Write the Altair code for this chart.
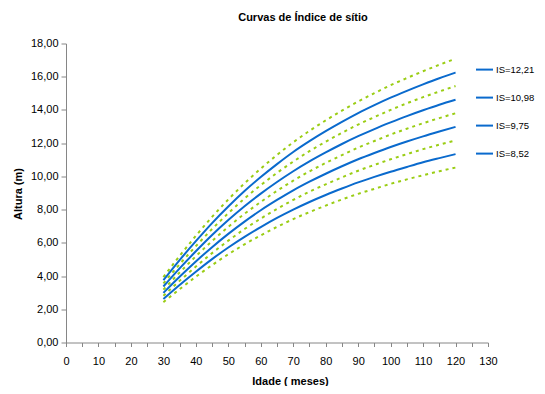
import altair as alt
import pandas as pd

ages = [30, 35, 40, 45, 50, 55, 60, 65, 70, 75, 80, 85, 90, 95, 100, 105, 110, 115, 120]

blue_names = ["IS=12,21", "IS=10,98", "IS=9,75", "IS=8,52"]
is_1221 = [3.75, 4.96, 6.10, 7.19, 8.19, 9.12, 9.96, 10.74, 11.47, 12.12, 12.72, 13.28, 13.81, 14.29, 14.74, 15.15, 15.54, 15.91, 16.25]
is_1098 = [3.37, 4.46, 5.49, 6.47, 7.37, 8.20, 8.96, 9.66, 10.31, 10.90, 11.44, 11.95, 12.42, 12.85, 13.25, 13.63, 13.98, 14.31, 14.61]
is_975 = [2.99, 3.96, 4.88, 5.74, 6.54, 7.28, 7.96, 8.58, 9.16, 9.68, 10.16, 10.61, 11.03, 11.41, 11.77, 12.10, 12.41, 12.70, 12.98]
is_852 = [2.62, 3.46, 4.26, 5.02, 5.72, 6.36, 6.95, 7.50, 8.00, 8.46, 8.88, 9.27, 9.64, 9.97, 10.28, 10.57, 10.85, 11.10, 11.34]

lim_1 = [3.94, 5.21, 6.42, 7.56, 8.61, 9.58, 10.47, 11.29, 12.05, 12.74, 13.37, 13.96, 14.51, 15.01, 15.49, 15.92, 16.33, 16.72, 17.08]
lim_2 = [3.56, 4.71, 5.80, 6.83, 7.78, 8.67, 9.47, 10.21, 10.89, 11.52, 12.09, 12.62, 13.12, 13.57, 14.00, 14.40, 14.77, 15.11, 15.44]
lim_3 = [3.18, 4.21, 5.19, 6.11, 6.96, 7.75, 8.46, 9.13, 9.74, 10.30, 10.81, 11.28, 11.73, 12.13, 12.52, 12.87, 13.20, 13.51, 13.80]
lim_4 = [2.81, 3.71, 4.57, 5.38, 6.13, 6.83, 7.46, 8.04, 8.58, 9.08, 9.52, 9.94, 10.34, 10.69, 11.03, 11.34, 11.64, 11.91, 12.17]
lim_5 = [2.43, 3.21, 3.96, 4.66, 5.31, 5.91, 6.45, 6.96, 7.43, 7.85, 8.24, 8.61, 8.95, 9.25, 9.55, 9.82, 10.07, 10.31, 10.53]

x_ticks = list(range(0, 131, 5))
y_ticks = list(range(0, 19, 2))

blue_rows = []
for name, vals in zip(blue_names, [is_1221, is_1098, is_975, is_852]):
    for a, v in zip(ages, vals):
        blue_rows.append({"idade": a, "altura": v, "serie": name})
blue_df = pd.DataFrame(blue_rows)

green_rows = []
for i, vals in enumerate([lim_1, lim_2, lim_3, lim_4, lim_5]):
    for a, v in zip(ages, vals):
        green_rows.append({"idade": a, "altura": v, "lim": f"L{i}"})
green_df = pd.DataFrame(green_rows)

FONT = "Liberation Sans"
BLUE = "#0A6ACD"
GREEN = "#9ACD14"


def x_enc():
    return alt.X(
        "idade:Q",
        scale=alt.Scale(domain=[0, 130], nice=False),
        axis=alt.Axis(
            values=x_ticks,
            labelExpr="datum.value % 10 == 0 ? datum.label : ''",
            labelOverlap=False,
            labelFlush=False,
            title="Idade ( meses)",
            titleX=224,
            titleY=38.5,
            titleBaseline="middle",
            titleFontWeight="bold",
            titleFontSize=11,
            labelFontSize=11,
            labelPadding=9,
            tickSize=4,
            grid=False,
        ),
    )


def y_enc():
    return alt.Y(
        "altura:Q",
        scale=alt.Scale(domain=[0, 18], nice=False),
        axis=alt.Axis(
            values=y_ticks,
            labelExpr="replace(format(datum.value, '.2f'), '.', ',')",
            labelOverlap=False,
            labelFlush=False,
            title="Altura (m)",
            titleX=-48,
            titleY=150,
            titleAngle=-90,
            titleAlign="center",
            titleBaseline="middle",
            titleFontWeight="bold",
            titleFontSize=11,
            labelFontSize=11,
            labelPadding=3,
            tickSize=5,
            grid=False,
        ),
    )


green = alt.Chart(green_df).mark_line(
    color=GREEN, strokeWidth=2, strokeDash=[3, 4], interpolate="monotone"
).encode(x=x_enc(), y=y_enc(), detail="lim:N")

blue = alt.Chart(blue_df).mark_line(
    strokeWidth=2, interpolate="monotone"
).encode(
    x=x_enc(),
    y=y_enc(),
    color=alt.Color(
        "serie:N",
        scale=alt.Scale(domain=blue_names, range=[BLUE] * 4),
        sort=blue_names,
        legend=alt.Legend(
            title=None,
            orient="none",
            legendX=409,
            legendY=16.6,
            symbolType="stroke",
            symbolSize=289,
            symbolStrokeWidth=2,
            labelFontSize=9.5,
            labelOffset=2,
            rowPadding=14,
            padding=0,
        ),
    ),
)

chart = alt.layer(green, blue).properties(
    width=422,
    height=299,
    padding={"left": 58, "top": 35.5, "right": 49, "bottom": 43.5},
    autosize=alt.AutoSizeParams(type="none"),
    title=alt.TitleParams(
        "Curvas de Índice de sítio",
        fontSize=11,
        fontWeight="bold",
        anchor="middle",
        dx=26,
        offset=14.6,
    ),
).configure(font=FONT).configure_view(stroke=None).configure_axis(
    domainColor="#868686",
    tickColor="#868686",
    labelColor="#000000",
    titleColor="#000000",
    labelFont=FONT,
    titleFont=FONT,
    labelOverlap=False,
).configure_legend(labelColor="#000000", labelFont=FONT).configure_title(
    font=FONT, color="#000000"
)

chart.save("out.html", embed_options={"renderer": "svg", "actions": False})
